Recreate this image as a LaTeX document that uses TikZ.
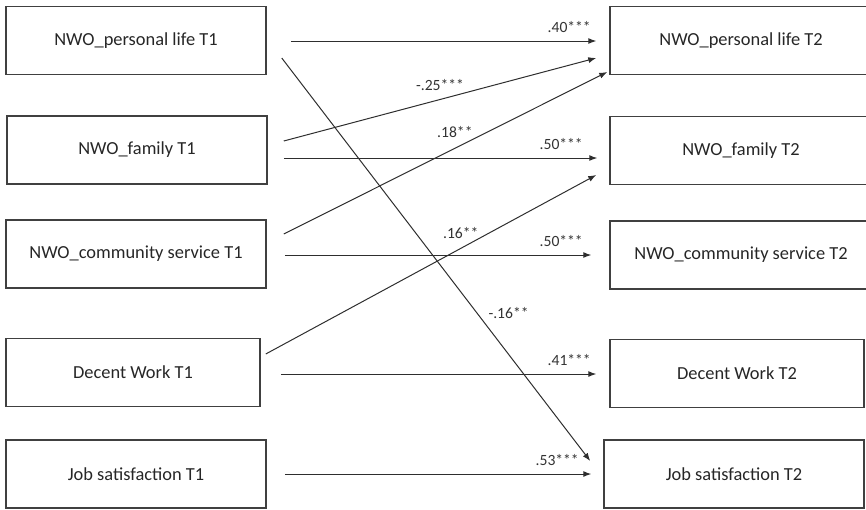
\documentclass[tikz,border=0pt]{standalone}
\usepackage{fontspec}
\setmainfont{Carlito}
\usetikzlibrary{arrows.meta}

\definecolor{boxgray}{HTML}{404040}
\definecolor{linegray}{HTML}{2E2E2E}

\tikzset{
  varbox/.style={draw=boxgray, line width=0.75pt, minimum width=130pt, minimum height=34pt,
    inner sep=0pt, text=black!85, font=\fontsize{9.2}{11}\selectfont},
  path/.style={draw=linegray, line width=0.5pt, -{Latex[length=4pt,width=3pt]}},
  coef/.style={inner sep=1pt, text=black!80, font=\fontsize{7.8}{9}\selectfont}
}

\begin{document}
\begin{tikzpicture}[x=0.5pt,y=-0.5pt]

\useasboundingbox (0,0) rectangle (866,509);

% Variablen T1
\node[varbox] (pl1) at (136,40.5) {NWO\_personal life T1};
\node[varbox] (fm1) at (137,150) {NWO\_family T1};
\node[varbox] (cs1) at (136,254) {NWO\_community service T1};
\node[varbox, minimum width=127pt] (dw1) at (133,372.5) {Decent Work T1};
\node[varbox] (js1) at (136,474) {Job satisfaction T1};

% Variablen T2
\node[varbox, minimum width=131pt] (pl2) at (741,40.5) {NWO\_personal life T2};
\node[varbox, minimum width=131pt] (fm2) at (741,150.5) {NWO\_family T2};
\node[varbox, minimum width=131pt] (cs2) at (741,255) {NWO\_community service T2};
\node[varbox, minimum width=127pt] (dw2) at (737,373.5) {Decent Work T2};
\node[varbox] (js2) at (734,474) {Job satisfaction T2};

% Stabilitaeten
\foreach \n/\a/\b/\c/\d/\e/\lab in {pl/24/0.5/-13/0.5/1.5/{.40***}, fm/16/8/-12/7.5/6/{.50***},
  cs/18/1/-18/0/3/{.50***}, dw/20/1.5/-13/0.5/1.5/{.41***}, js/18/0/-12/0/5/{.53***}}
{
\draw[path] ([shift={(\a,\b)}]\n1.east) -- ([shift={(\c,\d)}]\n2.west)
  node[coef, pos=1, anchor=south east, xshift=-\e pt, yshift=3pt] {\lab};
}

% Kreuzpfade
\draw[path] ([shift={(15,17.5)}]pl1.east) -- ([shift={(-13,-13)}]js2.west)
  node[coef, pos=.633, right=4.5pt] {-.16**};
\draw[path] ([shift={(16,-9)}]fm1.east) -- ([shift={(-13,17.5)}]pl2.west)
  node[coef, pos=.5, above=3pt] {-.25***};
\draw[path] ([shift={(17,-20)}]cs1.east) -- ([shift={(-2,31.5)}]pl2.west)
  node[coef, pos=.529, above=4pt] {.18**};
\draw[path] ([shift={(5,-18.5)}]dw1.east) -- ([shift={(-13,24.5)}]fm2.west)
  node[coef, pos=.59, above=3.5pt] {.16**};

\end{tikzpicture}
\end{document}
